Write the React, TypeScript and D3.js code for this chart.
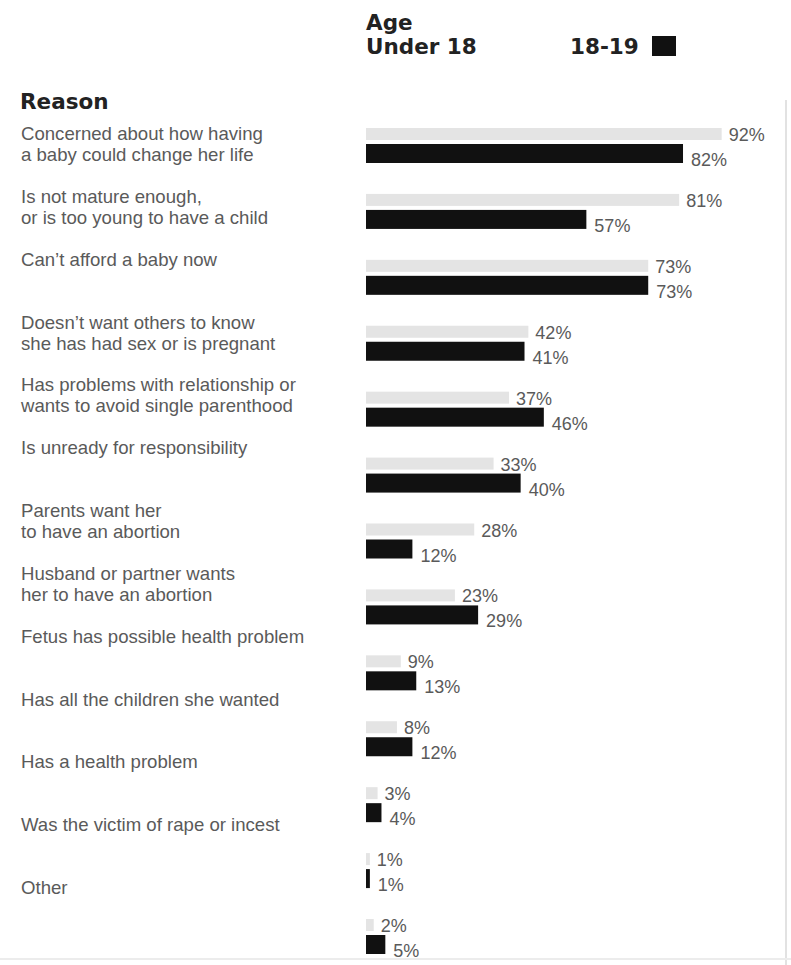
import React from "react";
import * as d3 from "d3";

const reasons: string[][] = [
  ["Concerned about how having", "a baby could change her life"],
  ["Is not mature enough,", "or is too young to have a child"],
  ["Can’t afford a baby now"],
  ["Doesn’t want others to know", "she has had sex or is pregnant"],
  ["Has problems with relationship or", "wants to avoid single parenthood"],
  ["Is unready for responsibility"],
  ["Parents want her", "to have an abortion"],
  ["Husband or partner wants", "her to have an abortion"],
  ["Fetus has possible health problem"],
  ["Has all the children she wanted"],
  ["Has a health problem"],
  ["Was the victim of rape or incest"],
  ["Other"],
];

const under18: number[] = [92, 81, 73, 42, 37, 33, 28, 23, 9, 8, 3, 1, 2];
const age18to19: number[] = [82, 57, 73, 41, 46, 40, 12, 29, 13, 12, 4, 1, 5];

const seriesNames = ["Under 18", "18-19"];

const W = 791;
const H = 965;
const titleFont = "'DejaVu Sans', Verdana, sans-serif";
const textFont = "'Liberation Sans', Arial, sans-serif";

export default function App() {
  const idx = d3.range(reasons.length);
  const x = d3.scaleLinear().domain([0, 100]).range([366, 752.6]);
  const yBar = d3.scalePoint<number>().domain(idx).range([144, 935]);
  const yLabel = d3.scalePoint<number>().domain(idx).range([140, 894]);
  const grayH = 12;
  const blackH = 19;
  const fmt = (v: number) => `${v}%`;

  return (
    <div style={{ position: "absolute", left: 0, top: 0 }}>
      <svg width={W} height={H} style={{ display: "block", background: "#fff" }}>
        {/* faint page edges from the scan */}
        <line x1={786} x2={786} y1={100} y2={H} stroke="#e2e2e2" strokeWidth={2} />
        <line x1={0} x2={W} y1={959} y2={959} stroke="#ececec" strokeWidth={2} />

        {/* legend / header */}
        <text x={366} y={30} fontFamily={titleFont} fontWeight="bold" fontSize={21.5} fill="#222">
          Age
        </text>
        <text x={366} y={54} fontFamily={titleFont} fontWeight="bold" fontSize={21.5} fill="#222">
          {seriesNames[0]}
        </text>
        <text x={570} y={54} fontFamily={titleFont} fontWeight="bold" fontSize={21.5} fill="#222">
          {seriesNames[1]}
        </text>
        <rect x={652} y={36} width={24} height={20} fill="#111" />

        <text x={20} y={109} fontFamily={titleFont} fontWeight="bold" fontSize={21.5} fill="#222">
          Reason
        </text>

        {/* category labels */}
        {reasons.map((lines, i) => (
          <text
            key={"l" + i}
            x={21}
            y={yLabel(i)}
            fontFamily={textFont}
            fontSize={18.6}
            fill="#5a5a5a"
          >
            {lines.map((ln, j) => (
              <tspan key={j} x={21} dy={j === 0 ? 0 : 21}>
                {ln}
              </tspan>
            ))}
          </text>
        ))}

        {/* bars */}
        {idx.map((i) => {
          const by = yBar(i) as number;
          const gy = by - 16;
          const g = under18[i];
          const b = age18to19[i];
          return (
            <g key={"b" + i}>
              <rect x={x(0)} y={gy} width={x(g) - x(0)} height={grayH} fill="#e4e4e4" />
              <text
                x={x(g) + 7}
                y={gy + 13}
                fontFamily={textFont}
                fontSize={18}
                fill="#5a5a5a"
              >
                {fmt(g)}
              </text>
              <rect x={x(0)} y={by} width={x(b) - x(0)} height={blackH} fill="#111" />
              <text
                x={x(b) + 8}
                y={by + 22}
                fontFamily={textFont}
                fontSize={18}
                fill="#5a5a5a"
              >
                {fmt(b)}
              </text>
            </g>
          );
        })}
      </svg>
    </div>
  );
}
